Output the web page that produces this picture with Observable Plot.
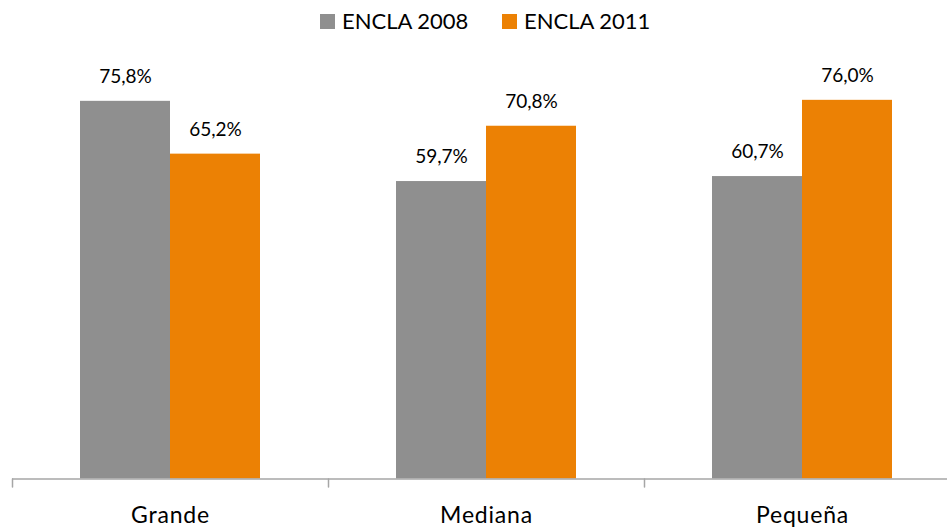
<!DOCTYPE html>
<html>
<head>
<meta charset="utf-8">
<script src="https://cdn.jsdelivr.net/npm/d3@7"></script>
<script src="https://cdn.jsdelivr.net/npm/@observablehq/plot@0.6"></script>
<style>
  html, body { margin: 0; padding: 0; background: #fff; overflow: hidden; }
  body { font-family: Lato, "Open Sans", sans-serif; color: #000; }
  #legend { position: relative; height: 40px; width: 947px; }
  .item { position: absolute; top: 0; height: 40px; display: flex; align-items: center; font-size: 22px; white-space: nowrap; }
  .swatch { width: 15px; height: 15px; margin-right: 7px; margin-top: 2px; }
  #chart g[aria-label="fx-axis tick label"] text { letter-spacing: 0.8px; }
</style>
</head>
<body>
<div id="legend"></div>
<div id="chart"></div>
<script>
// Company size categories and survey results (percent)
const categories = ["Grande", "Mediana", "Pequeña"];
const series = ["ENCLA 2008", "ENCLA 2011"];
const encla2008 = [75.8, 59.7, 60.7];
const encla2011 = [65.2, 70.8, 76.0];

const seriesColors = ["#8f8f8f", "#ec8104"];
const axisColor = "#a6a6a6";

const rows = categories.flatMap((cat, i) => [
  {cat, series: series[0], value: encla2008[i]},
  {cat, series: series[1], value: encla2011[i]}
]);

const fmt = v => v.toFixed(1).replace(".", ",") + "%";

// Legend above the chart
const legend = document.getElementById("legend");
const legendLeft = [320, 502];
series.forEach((s, i) => {
  const item = document.createElement("div");
  item.className = "item";
  item.style.left = legendLeft[i] + "px";
  const sw = document.createElement("span");
  sw.className = "swatch";
  sw.style.background = seriesColors[i];
  const label = document.createElement("span");
  label.textContent = s;
  item.append(sw, label);
  legend.append(item);
});

// Short tick drawn at the left edge of each category band
const tickShape = {
  draw(context, l) {
    context.moveTo(0, 0);
    context.lineTo(0, -l);
  }
};

const chart = Plot.plot({
  width: 947,
  height: 487,
  marginLeft: 11,
  marginRight: 0,
  marginTop: 39.9,
  marginBottom: 48.5,
  style: {fontFamily: "Lato, 'Open Sans', sans-serif", color: "#000", background: "#fff"},
  fx: {domain: categories, range: [11, 960.5], padding: 0, label: null},
  x: {domain: series, paddingInner: 0, paddingOuter: 0.75, axis: null},
  y: {domain: [0, 80], axis: null},
  color: {domain: series, range: seriesColors},
  marks: [
    Plot.barY(rows, {fx: "cat", x: "series", y: "value", fill: "series"}),
    Plot.text(rows, {
      fx: "cat", x: "series", y: "value",
      text: d => fmt(d.value),
      lineAnchor: "bottom", dy: -18.5,
      fontSize: 19, fill: "#000"
    }),
    Plot.ruleY([0], {stroke: axisColor, strokeWidth: 1.5}),
    Plot.vector([0], {
      frameAnchor: "bottom-left", length: 8, rotate: 180, anchor: "start",
      shape: tickShape, stroke: axisColor, strokeWidth: 1.5
    }),
    Plot.axisFx({anchor: "bottom", tickSize: 0, tickPadding: 27.5, fontSize: 23, label: null, fill: "#000"})
  ]
});

document.getElementById("chart").append(chart);
</script>
</body>
</html>
